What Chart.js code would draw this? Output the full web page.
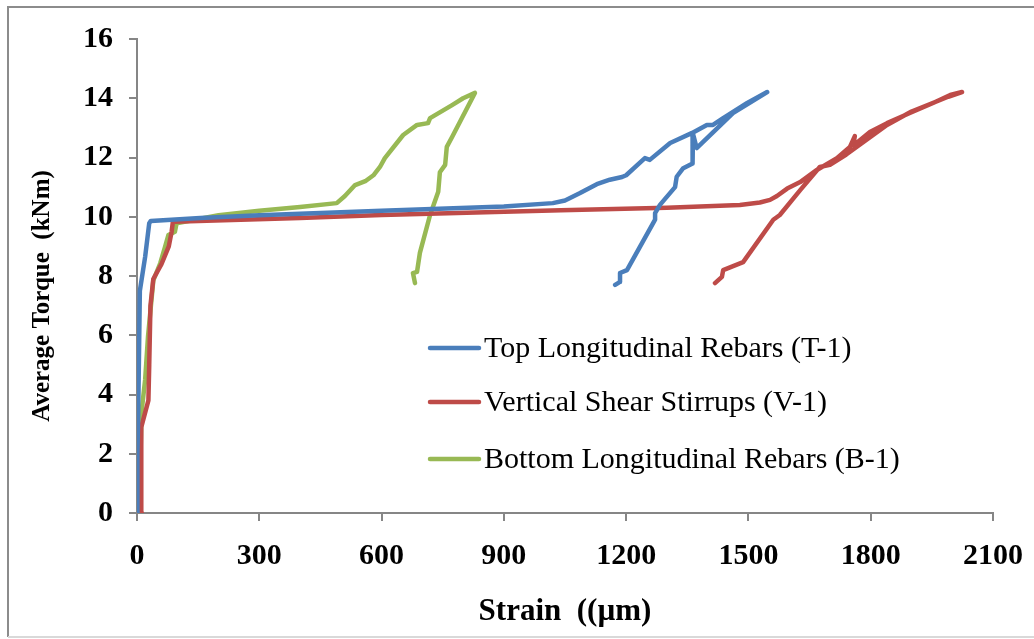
<!DOCTYPE html>
<html>
<head>
<meta charset="utf-8">
<script src="https://cdn.jsdelivr.net/npm/chart.js@4"></script>
<style>
  body { margin: 0; background: #fff; }
  #wrap { width: 1034px; height: 639px; }
</style>
</head>
<body>
<div id="wrap"><canvas id="torqueChart" width="1034" height="639"></canvas></div>
<script>
/*
* torque vs strain readings for the three rebar groups
*/
const xTicks = [0, 300, 600, 900, 1200, 1500, 1800, 2100];
const yTicks = [0, 2, 4, 6, 8, 10, 12, 14, 16];

const seriesNames = ['Top Longitudinal Rebars (T-1)', 'Vertical Shear Stirrups (V-1)',
   'Bottom Longitudinal Rebars (B-1)'];
const yTitle = 'Average Torque  (kNm)';

const topStrain = [0, 1, 3, 7, 20, 30, 34, 155, 300, 600, 900, 1020, 1050, 1087, 1128, 1160,
   1190, 1200, 1246, 1258, 1308, 1362, 1398, 1413, 1438, 1497, 1546, 1462, 1373, 1364, 1364,
   1362, 1340, 1324, 1320, 1283, 1271, 1271, 1202, 1185, 1185, 1173];
const topTorque = [0, 2, 3.4, 7.5, 8.65, 9.78, 9.86, 9.96, 10.05, 10.2, 10.35, 10.46, 10.55,
   10.8, 11.1, 11.25, 11.34, 11.4, 11.98, 11.92, 12.49, 12.83, 13.1, 13.1, 13.33, 13.84, 14.21,
   13.5, 12.32, 12.8, 12.25, 11.8, 11.64, 11.35, 11.0, 10.4, 10.12, 9.9, 8.2, 8.1, 7.8, 7.7];

const vertStrain = [12, 10, 11, 28, 30, 33, 40, 60, 78, 85, 88, 400, 600, 1040, 1300, 1479,
   1528, 1553, 1570, 1595, 1627, 1668, 1717, 1749, 1761, 1757, 1798, 1840, 1896, 1953, 1995,
   2024, 1990, 1900, 1840, 1790, 1740, 1700, 1675, 1627, 1577, 1561, 1487, 1438, 1435, 1418];
const vertTorque = [0, 1, 2.9, 3.8, 5, 7, 7.9, 8.4, 9.0, 9.5, 9.83, 9.96, 10.06, 10.22, 10.3,
   10.4, 10.48, 10.57, 10.7, 10.95, 11.17, 11.58, 11.98, 12.36, 12.72, 12.4, 12.86, 13.16, 13.5,
   13.84, 14.11, 14.21, 14.05, 13.55, 13.1, 12.6, 12.1, 11.75, 11.68, 10.9, 10.06, 9.9, 8.47,
   8.2, 7.97, 7.76];

const botStrain = [5, 8, 11, 20, 27, 40, 57, 69, 77, 93, 97, 200, 300, 400, 490, 510, 535, 560,
   580, 596, 608, 653, 687, 714, 719, 773, 800, 829, 773, 760, 756, 743, 739, 719, 694, 687,
   677, 682];
const botTorque = [0, 1.5, 3.4, 4.5, 5.95, 7.85, 8.43, 8.99, 9.38, 9.49, 9.78, 10.05, 10.2,
   10.33, 10.46, 10.7, 11.07, 11.2, 11.4, 11.68, 11.98, 12.76, 13.1, 13.16, 13.33, 13.77, 14.0,
   14.18, 12.69, 12.36, 11.75, 11.5, 10.84, 10.06, 8.78, 8.14, 8.1, 7.76];

const lineColors = ['#4a7ebb', '#be4b48', '#98b954'];

/*
* zips a strain list and a torque list into the point objects chart.js wants
*/
function toPoints(xs, ys) {
   return xs.map((x, i) => ({ x: x, y: ys[i] }));
}

function makeDataset(i, xs, ys) {
   return {
      label: seriesNames[i],
      data: toPoints(xs, ys),
      showLine: true,
      borderColor: lineColors[i],
      backgroundColor: lineColors[i],
      borderWidth: 4.5,
      pointRadius: 0,
      borderCapStyle: 'round',
      borderJoinStyle: 'round',
      tension: 0
   };
}

/*
* the grey frame round the whole picture, plus the rotated y title which sits
* a bit below the middle of the axis in the original
*/
const framePlugin = {
   id: 'frame',
   beforeDraw(chart) {
      const ctx = chart.ctx;
      ctx.save();
      ctx.fillStyle = '#fff';
      ctx.fillRect(0, 0, chart.width, chart.height);
      ctx.strokeStyle = '#8c8c8c';
      ctx.lineWidth = 2;
      ctx.beginPath();
      ctx.moveTo(1040, 7);
      ctx.lineTo(8, 7);
      ctx.lineTo(8, 637);
      ctx.stroke();
      ctx.strokeStyle = '#d9d9d9';
      ctx.beginPath();
      ctx.moveTo(8, 637);
      ctx.lineTo(1040, 637);
      ctx.stroke();
      ctx.restore();
   },
   afterDraw(chart) {
      const ctx = chart.ctx;
      ctx.save();
      ctx.translate(43, 296);
      ctx.rotate(-Math.PI / 2);
      ctx.font = 'bold 25px "Liberation Serif"';
      ctx.fillStyle = '#000';
      ctx.textAlign = 'center';
      ctx.textBaseline = 'middle';
      ctx.fillText(yTitle, 0, 0);
      ctx.restore();
   }
};

/*
* legend sits inside the plot, drawn by hand so it lands where the original has it
*/
const innerLegend = {
   id: 'innerLegend',
   afterDatasetsDraw(chart) {
      const ctx = chart.ctx;
      const rows = [348, 402, 459];
      ctx.save();
      ctx.font = '30px "Liberation Serif"';
      ctx.textBaseline = 'middle';
      ctx.fillStyle = '#000';
      chart.data.datasets.forEach((ds, i) => {
         ctx.strokeStyle = ds.borderColor;
         ctx.lineWidth = 4.5;
         ctx.lineCap = 'round';
         ctx.beginPath();
         ctx.moveTo(430, rows[i]);
         ctx.lineTo(479, rows[i]);
         ctx.stroke();
         ctx.fillText(ds.label, 484, rows[i] + 1);
      });
      ctx.restore();
   }
};

const tickFont = { family: 'Liberation Serif', weight: 'bold', size: 30 };

new Chart(document.querySelector('#torqueChart'), {
   type: 'scatter',
   data: {
      datasets: [
         makeDataset(0, topStrain, topTorque),
         makeDataset(1, vertStrain, vertTorque),
         makeDataset(2, botStrain, botTorque)
      ]
   },
   options: {
      responsive: false,
      animation: false,
      layout: { padding: { left: 0, top: 39, right: 41, bottom: 0 } },
      plugins: {
         legend: { display: false },
         tooltip: { enabled: false }
      },
      scales: {
         x: {
            type: 'linear',
            min: 0,
            max: 2100,
            afterBuildTicks: axis => { axis.ticks = xTicks.map(v => ({ value: v })); },
            afterFit: axis => {
               axis.height = 126;
               axis.paddingLeft = 0;
               axis.paddingRight = 0;
            },
            border: { color: '#868686', width: 2 },
            grid: { drawOnChartArea: false, color: '#868686', lineWidth: 2, tickLength: 8 },
            ticks: {
               font: tickFont,
               color: '#000',
               padding: 17,
               maxRotation: 0,
               callback: value => String(value)
            },
            title: {
               display: true,
               text: 'Strain  ((µm)',
               font: { family: 'Liberation Serif', weight: 'bold', size: 31 },
               color: '#000',
               padding: { top: 4, bottom: 8 }
            }
         },
         y: {
            type: 'linear',
            min: 0,
            max: 16,
            afterBuildTicks: axis => { axis.ticks = yTicks.map(v => ({ value: v })); },
            afterFit: axis => { axis.width = 137; },
            border: { color: '#868686', width: 2 },
            grid: { drawOnChartArea: false, color: '#868686', lineWidth: 2, tickLength: 8 },
            ticks: { font: tickFont, color: '#000', padding: 16 }
         }
      }
   },
   plugins: [framePlugin, innerLegend]
});
</script>
</body>
</html>
